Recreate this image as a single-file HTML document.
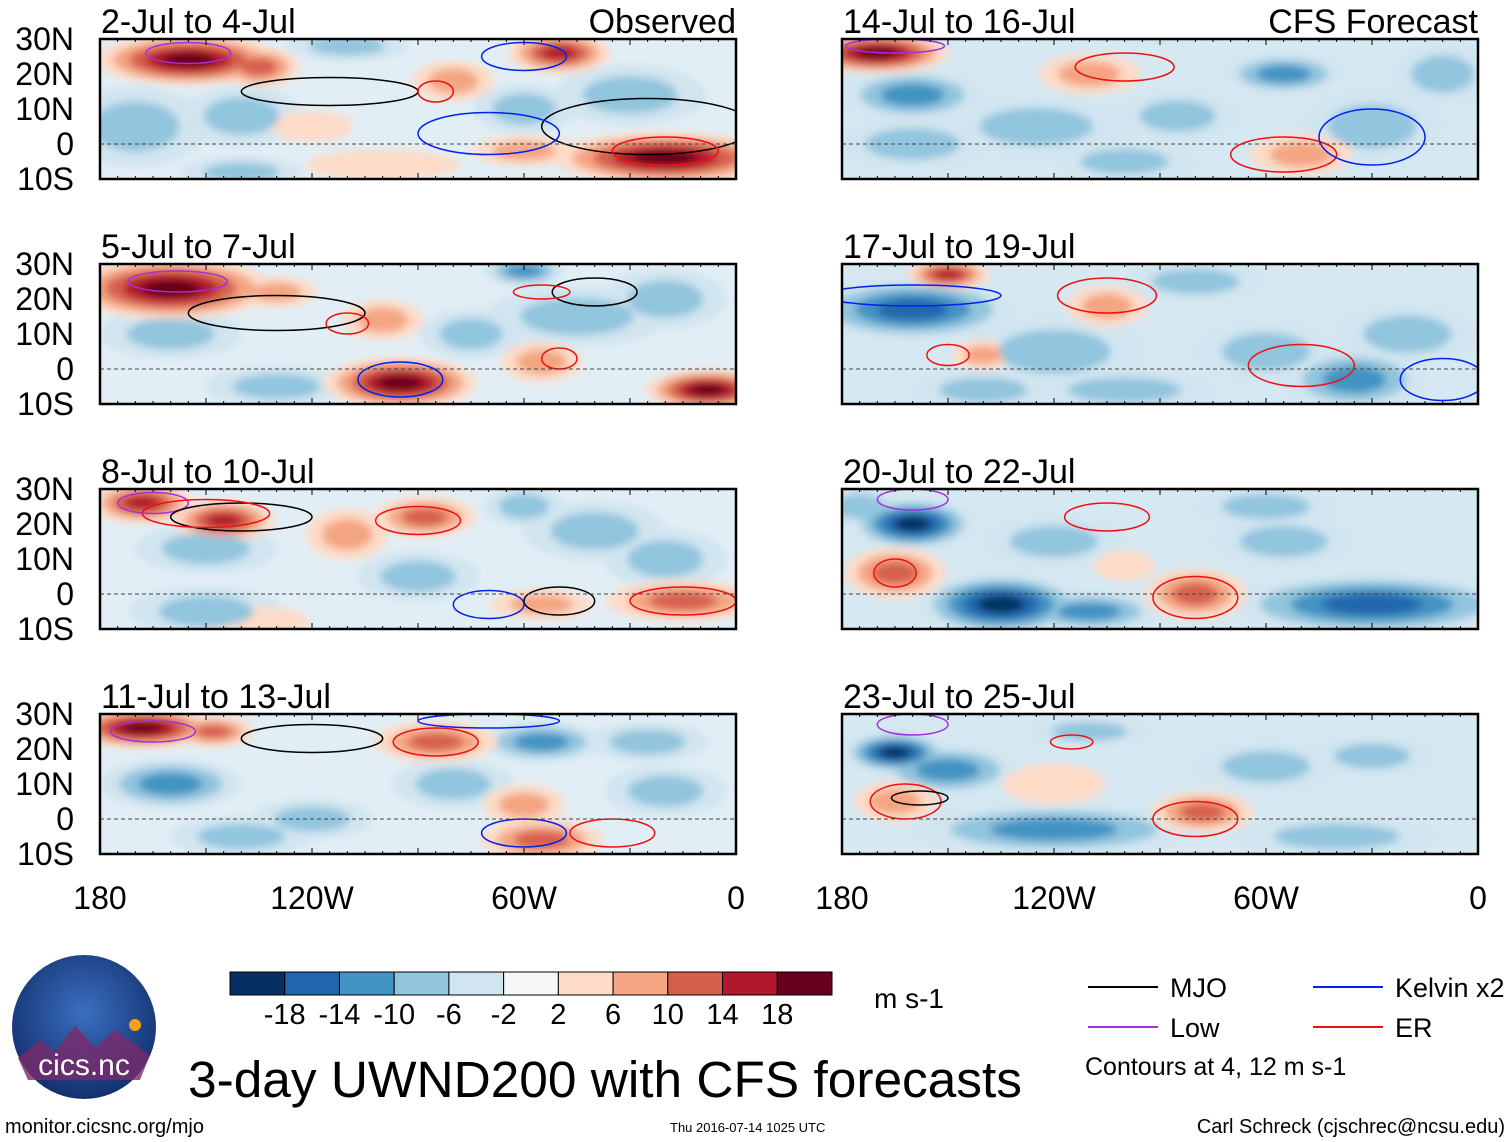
<!DOCTYPE html>
<html><head><meta charset="utf-8"><style>
body{margin:0;background:#fff;width:1510px;height:1142px;overflow:hidden;font-family:"Liberation Sans",sans-serif}
svg{position:absolute;left:0;top:0}
</style></head><body>
<svg id="fig" width="1510" height="1142">
<defs>
<filter id="blur" x="-50%" y="-50%" width="200%" height="200%"><feGaussianBlur stdDeviation="4"/></filter>
<radialGradient id="logoG" cx="50%" cy="40%" r="60%"><stop offset="0" stop-color="#3a6fc0"/><stop offset="1" stop-color="#13306f"/></radialGradient>
</defs>
</svg>
<script>
const colors=["#053061","#2166ac","#4393c3","#92c5de","#d1e5f0","#f7f7f7","#fddbc7","#f4a582","#d6604d","#b2182b","#67001f"];
const cbLabels=["-18","-14","-10","-6","-2","2","6","10","14","18"];
const panelTitles=["2-Jul to 4-Jul","5-Jul to 7-Jul","8-Jul to 10-Jul","11-Jul to 13-Jul","14-Jul to 16-Jul","17-Jul to 19-Jul","20-Jul to 22-Jul","23-Jul to 25-Jul"];
const latTicks=["30N","20N","10N","0","10S"];
const lonTicks=["180","120W","60W","0"];
// blobs per panel: [lon, lat, lonRadius, latRadius, value m/s]
const blobs0=[[-170,5,14,8,-6],[-140,8,12,6,-6],[-110,28,12,3,-6],[-30,14,15,6,-6],[-60,10,10,5,-6],[-140,-8,12,3,-6],[-155,24,18,5,18],[-135,22,8,4,12],[-50,26,10,4,14],[-20,-4,22,5,18],[-60,-2,10,3,8],[-80,18,8,4,6],[-100,-6,15,3,4],[-120,5,8,3,4]];
const blobs1=[[-160,10,14,5,-8],[-45,15,18,6,-6],[-130,-5,14,4,-6],[-60,28,8,3,-10],[-20,20,12,6,-6],[-75,10,10,5,-6],[-160,23,20,6,18],[-95,-4,15,5,18],[-8,-6,12,4,18],[-100,14,8,4,8],[-55,2,8,4,6],[-130,22,8,3,6]];
const blobs2=[[-150,13,14,5,-6],[-40,18,14,6,-6],[-60,25,8,4,-8],[-150,-5,15,5,-6],[-90,5,12,5,-6],[-20,10,12,6,-6],[-168,26,10,4,14],[-145,21,10,4,14],[-88,22,10,4,10],[-15,-2,15,4,12],[-110,17,8,5,8],[-55,-3,10,3,6],[-135,-8,10,3,4]];
const blobs3=[[-160,10,14,5,-10],[-120,0,12,4,-6],[-55,22,12,4,-10],[-25,22,12,4,-6],[-140,-5,14,4,-6],[-80,10,12,5,-6],[-20,8,12,5,-6],[-168,26,14,4,18],[-148,25,8,3,10],[-85,22,12,4,12],[-55,-6,12,4,12],[-60,4,8,4,6]];
const blobs4=[[-160,14,14,5,-12],[-55,20,12,4,-10],[-125,5,18,6,-6],[-30,5,14,7,-6],[-100,-5,14,4,-6],[-160,0,15,5,-6],[-85,8,12,5,-6],[-10,20,10,6,-6],[-170,26,14,4,18],[-110,20,10,4,6],[-50,-3,10,4,8]];
const blobs5=[[-160,17,20,6,-14],[-60,5,14,6,-8],[-35,-3,14,6,-10],[-120,5,18,7,-6],[-100,-6,18,4,-8],[-140,-6,14,4,-6],[-20,10,14,6,-6],[-80,25,14,4,-6],[-150,27,8,3,14],[-105,18,8,4,6],[-140,4,6,3,6]];
const blobs6=[[-160,20,12,5,-18],[-135,-3,16,6,-18],[-120,15,14,5,-6],[-30,-3,28,6,-14],[-55,15,14,5,-6],[-110,-5,14,4,-10],[-60,25,14,4,-6],[-175,25,8,4,-8],[-165,6,10,5,10],[-80,0,10,5,10],[-100,8,6,3,4]];
const blobs7=[[-165,19,10,4,-18],[-150,14,14,5,-10],[-120,-3,28,5,-10],[-60,15,14,5,-6],[-30,18,12,4,-6],[-110,25,12,3,-6],[-40,-5,20,4,-6],[-165,5,8,4,8],[-78,2,10,4,10],[-120,10,10,4,4]];
const panelBlobs=[blobs0,blobs1,blobs2,blobs3,blobs4,blobs5,blobs6,blobs7];
// contours: [lon, lat, rx, ry, type]
const contours=[
[[-155,26,12,3,"low"],[-115,15,25,4,"mjo"],[-25,5,30,8,"mjo"],[-60,25,12,4,"ker"],[-70,3,20,6,"ker"],[-85,15,5,3,"er"],[-20,-2,15,4,"er"]],
[[-158,25,14,3,"low"],[-130,16,25,5,"mjo"],[-40,22,12,4,"mjo"],[-95,-3,12,5,"ker"],[-55,22,8,2,"er"],[-110,13,6,3,"er"],[-50,3,5,3,"er"]],
[[-165,26,10,3,"low"],[-140,22,20,4,"mjo"],[-90,21,12,4,"er"],[-150,23,18,4,"er"],[-50,-2,10,4,"mjo"],[-15,-2,15,4,"er"],[-70,-3,10,4,"ker"]],
[[-165,25,12,3,"low"],[-120,23,20,4,"mjo"],[-85,22,12,4,"er"],[-60,-4,12,4,"ker"],[-35,-4,12,4,"er"],[-70,28,20,2,"ker"]],
[[-165,28,14,2,"low"],[-100,22,14,4,"er"],[-55,-3,15,5,"er"],[-30,2,15,8,"ker"]],
[[-160,21,25,3,"ker"],[-105,21,14,5,"er"],[-150,4,6,3,"er"],[-50,1,15,6,"er"],[-10,-3,12,6,"ker"]],
[[-160,27,10,3,"low"],[-105,22,12,4,"er"],[-165,6,6,4,"er"],[-80,-1,12,6,"er"]],
[[-160,27,10,3,"low"],[-115,22,6,2,"er"],[-162,5,10,5,"er"],[-80,0,12,5,"er"],[-158,6,8,2,"mjo"]]
];
const cColor={mjo:"#000",ker:"#0022ee",er:"#ee1111",low:"#a030e0"};
const NS="http://www.w3.org/2000/svg";
const svg=document.getElementById("fig");
function el(tag,attrs,parent){const e=document.createElementNS(NS,tag);for(const k in attrs)e.setAttribute(k,attrs[k]);(parent||svg).appendChild(e);return e;}
const PW=636,PH=140;
const lefts=[100,842],tops=[39,264,489,714];
function colorFor(v){const bounds=[-18,-14,-10,-6,-2,2,6,10,14,18];let i=0;while(i<bounds.length&&v>bounds[i])i++;return colors[i];}
for(let p=0;p<8;p++){
  const L=lefts[p<4?0:1],T=tops[p%4];
  const xs=lon=>L+(lon+180)/180*PW, ys=lat=>T+(30-lat)*3.5;
  const g=el("g",{});
  
  
  const cp=el("clipPath",{id:"cp"+p},g);el("rect",{x:L,y:T,width:PW,height:PH},cp);
  const inner=el("g",{"clip-path":"url(#cp"+p+")"},g);
  el("rect",{x:L,y:T,width:PW,height:PH,fill:p<4?"#e2eef5":"#d6e8f2"},inner);
  const bg=el("g",{filter:"url(#blur)"},inner);
  const layers=[];
  panelBlobs[p].forEach(b=>{
    const a=Math.abs(b[4]);
    const steps=a>=18?4:a>=14?3:a>=10?2:a>=6?1:0;
    for(let s=0;s<=steps;s++){
      const f=1.45*(1-s/(steps+1.6));
      layers.push({b:b,f:f,s:s,v:Math.sign(b[4])*(3+4*s)});
    }
  });
  layers.sort((a,c)=>a.s-c.s);
  layers.forEach(l=>{
    const b=l.b;
    const e=el("ellipse",{cx:xs(b[0]),cy:ys(b[1]),rx:b[2]*PW/180*l.f,ry:b[3]*3.5*l.f,fill:colorFor(l.v)},bg);
    
    
  });
  contours[p].forEach(c=>{
    const e=el("ellipse",{cx:xs(c[0]),cy:ys(c[1]),rx:c[2]*PW/180,ry:c[3]*3.5,fill:"none",stroke:cColor[c[4]],"stroke-width":1.5},inner);
    
    
  });
  el("line",{x1:L,x2:L+PW,y1:ys(0),y2:ys(0),stroke:"#444","stroke-dasharray":"4,3","stroke-width":1},inner);
  el("rect",{x:L,y:T,width:PW,height:PH,fill:"none",stroke:"#000","stroke-width":2.5},g);
  for(let k=0;k<=36;k++){const x=L+k*PW/36;el("line",{x1:x,x2:x,y1:T,y2:T+(k%6?3:6),stroke:"#000"},g);el("line",{x1:x,x2:x,y1:T+PH,y2:T+PH-(k%6?3:6),stroke:"#000"},g);}
  const t=el("text",{x:L+1,y:T-6,"font-size":34,fill:"#000"},g);t.textContent=panelTitles[p];
  
  if(p%4===0){const o=el("text",{x:L+PW,y:T-6,"font-size":34,"text-anchor":"end"},g);o.textContent=p?"CFS Forecast":"Observed";
    }
  if(p<4){latTicks.forEach((s,i)=>{const tt=el("text",{x:74,y:T+i*35+11,"font-size":32,"text-anchor":"end"},g);tt.textContent=s;
    });}
  if(p%4===3){lonTicks.forEach((s,i)=>{const tt=el("text",{x:L+i*PW/3,y:T+PH+55,"font-size":32,"text-anchor":"middle"},g);tt.textContent=s;
    });}
}
// colorbar
const cb=el("g",{});
const cw=602/11;
colors.forEach((c,i)=>el("rect",{x:230+i*cw,y:972,width:cw,height:23,fill:c,stroke:"#000","stroke-width":1},cb));
cbLabels.forEach((s,i)=>{const t=el("text",{x:230+(i+1)*cw,y:1024,"font-size":29,"text-anchor":"middle"},cb);t.textContent=s;});
const un=el("text",{x:874,y:1008,"font-size":28},cb);un.textContent="m s-1";
// legend
const lg=el("g",{});
[["MJO","#000",1088,987],["Kelvin x2","#0022ee",1313,987],["Low","#a030e0",1088,1027],["ER","#ee1111",1313,1027]].forEach(a=>{
  el("line",{x1:a[2],x2:a[2]+70,y1:a[3],y2:a[3],stroke:a[1],"stroke-width":2},lg);
  const t=el("text",{x:a[2]+82,y:a[3]+10,"font-size":27},lg);t.textContent=a[0];});
const ct=el("text",{x:1085,y:1075,"font-size":25},lg);ct.textContent="Contours at 4, 12 m s-1";
// title & footer
const ti=el("text",{x:188,y:1097,"font-size":51,textLength:834,lengthAdjust:"spacingAndGlyphs"});ti.textContent="3-day UWND200 with CFS forecasts";

const f1=el("text",{x:5,y:1133,"font-size":20});f1.textContent="monitor.cicsnc.org/mjo";

const f2=el("text",{x:670,y:1132,"font-size":13});f2.textContent="Thu 2016-07-14 1025 UTC";

const f3=el("text",{x:1505,y:1133,"font-size":20,"text-anchor":"end"});f3.textContent="Carl Schreck (cjschrec@ncsu.edu)";

// logo
const lo=el("g",{});
el("circle",{cx:84,cy:1027,r:72,fill:"url(#logoG)"},lo);
el("path",{d:"M18 1058 L40 1040 L55 1052 L75 1025 L95 1048 L115 1030 L150 1055 L140 1080 L28 1080 Z",fill:"#7b2a6a",opacity:0.8},lo);
el("circle",{cx:135,cy:1025,r:6,fill:"#f6a01a"},lo);
const lt=el("text",{x:84,y:1075,"font-size":30,fill:"#fff","text-anchor":"middle"},lo);lt.textContent="cics.nc";
</script>
</body></html>
